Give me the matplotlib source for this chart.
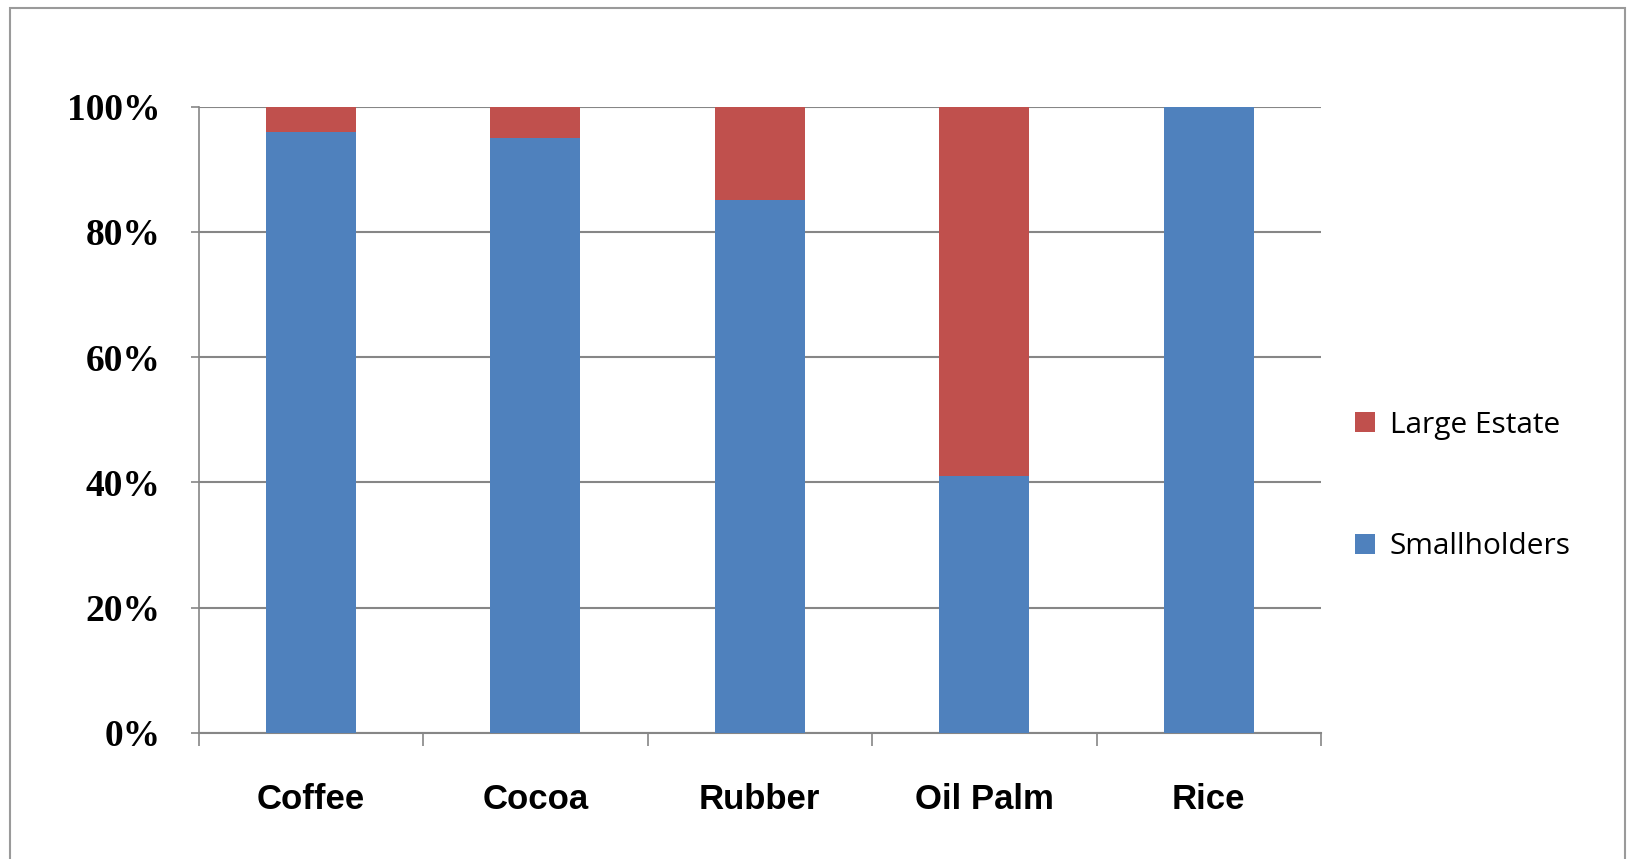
import matplotlib.pyplot as plt
from matplotlib.patches import Rectangle
from matplotlib.ticker import PercentFormatter

# Share of production by holding type
cultures = ["Coffee", "Cocoa", "Rubber", "Oil Palm", "Rice"]
smallholders = [96, 95, 85, 41, 100]
large_estate = [4, 5, 15, 59, 0]

bleu = "#4F81BD"
rouge = "#C0504D"
gris = "#868686"

fig = plt.figure(figsize=(16.38, 8.59), dpi=100)
ax = fig.add_axes([198.5 / 1638, 1 - 733 / 859, (1321 - 198.5) / 1638, (733 - 106.5) / 859])

x = range(len(cultures))
ax.bar(x, smallholders, width=0.4, color=bleu, label="Smallholders", zorder=3)
ax.bar(x, large_estate, width=0.4, bottom=smallholders, color=rouge,
       label="Large Estate", zorder=3)

ax.set_xlim(-0.5, len(cultures) - 0.5)
ax.set_ylim(0, 100)
ax.set_yticks(range(0, 101, 20))
ax.yaxis.set_major_formatter(PercentFormatter(decimals=0))
ax.yaxis.grid(True, color=gris, linewidth=1.5, zorder=0)

for cote in ["top", "right"]:
    ax.spines[cote].set_visible(False)
ax.spines["left"].set_color(gris)
ax.spines["bottom"].set_color(gris)
ax.spines["left"].set_linewidth(1.2)
ax.spines["bottom"].set_linewidth(1.5)

# ticks between categories, labels centred under bars
ax.set_xticks([i - 0.5 for i in range(len(cultures) + 1)])
ax.set_xticklabels([])
ax.set_xticks(list(x), minor=True)
ax.set_xticklabels(cultures, minor=True, fontsize=25, fontweight="bold",
                   family="Liberation Sans")
ax.tick_params(axis="x", which="major", length=9, color=gris, width=1.2)
ax.tick_params(axis="x", which="minor", length=0, pad=36)
ax.tick_params(axis="y", length=5.5, color=gris, width=1.2, pad=22)
for lab in ax.get_yticklabels():
    lab.set_fontsize(27)
    lab.set_family("Liberation Serif")
    lab.set_fontweight("bold")

handles, labels = ax.get_legend_handles_labels()
fig.legend(handles[::-1], labels[::-1], loc="center left",
           bbox_to_anchor=(1328 / 1638, 1 - 486 / 859), frameon=False,
           prop={"family": "Open Sans", "size": 21.5}, labelspacing=3.1,
           handlelength=0.67, handleheight=0.67, handletextpad=0.5)

# outer frame
fig.patches.append(Rectangle((10 / 1638, -0.05), 1625 / 1638 - 10 / 1638, 1.05 - 8.5 / 859,
                             transform=fig.transFigure, fill=False,
                             edgecolor="#9a9a9a", linewidth=1.5))

plt.savefig("out.png", dpi=100)
